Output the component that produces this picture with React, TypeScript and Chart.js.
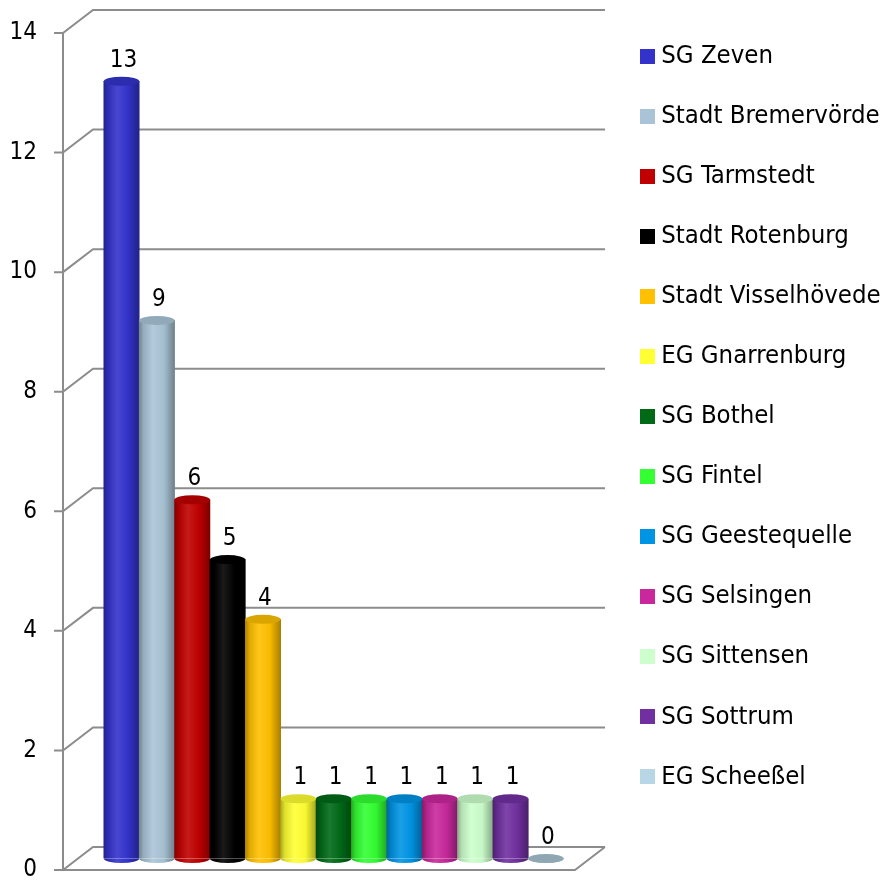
import React, { useEffect, useRef } from 'react';
import { Chart, registerables } from 'chart.js';

Chart.register(...registerables);

const LABELS = [
  'SG Zeven',
  'Stadt Bremervörde',
  'SG Tarmstedt',
  'Stadt Rotenburg',
  'Stadt Visselhövede',
  'EG Gnarrenburg',
  'SG Bothel',
  'SG Fintel',
  'SG Geestequelle',
  'SG Selsingen',
  'SG Sittensen',
  'SG Sottrum',
  'EG Scheeßel',
];
const VALUES = [13, 9, 6, 5, 4, 1, 1, 1, 1, 1, 1, 1, 0];
const COLORS = [
  '#3333CC',
  '#A9C4D6',
  '#C00000',
  '#000000',
  '#FFC000',
  '#FFFF33',
  '#006A17',
  '#33FF33',
  '#0094E4',
  '#C8289C',
  '#CCFFCC',
  '#7030A0',
  '#B7D6E6',
];
const Y_MIN = 0;
const Y_MAX = 14;
const Y_STEP = 2;

const FONT_FAMILY = "'DejaVu Sans Condensed', 'DejaVu Sans', sans-serif";
const GRID_COLOR = '#8c8c8c';
const DEPTH_X = 30;
const DEPTH_Y = -23;
const X_MIN = -1.23;
const X_MAX = 14.97;
const WALL_END = 13.245;

function hexToRgb(h: string) {
  const s = h.replace('#', '');
  return [parseInt(s.slice(0, 2), 16), parseInt(s.slice(2, 4), 16), parseInt(s.slice(4, 6), 16)];
}
function shade(h: string, f: number) {
  const [r, g, b] = hexToRgb(h);
  return `rgb(${Math.round(r * f)},${Math.round(g * f)},${Math.round(b * f)})`;
}
function tint(h: string, a: number) {
  const [r, g, b] = hexToRgb(h);
  return `rgb(${Math.round(r + (255 - r) * a)},${Math.round(g + (255 - g) * a)},${Math.round(b + (255 - b) * a)})`;
}
function bodyGradient(ctx: CanvasRenderingContext2D, left: number, width: number, color: string) {
  const g = ctx.createLinearGradient(left, 0, left + width, 0);
  g.addColorStop(0, shade(color, 0.68));
  g.addColorStop(0.12, shade(color, 0.88));
  g.addColorStop(0.38, tint(color, 0.1));
  g.addColorStop(0.7, shade(color, 0.97));
  g.addColorStop(1, shade(color, 0.66));
  return g;
}

const wallsPlugin = {
  id: 'walls3d',
  beforeDatasetsDraw(chart: any) {
    const { ctx, chartArea, scales } = chart;
    const x = scales.x;
    const y = scales.y;
    const L = chartArea.left;
    const R = x.getPixelForValue(WALL_END);
    const y0 = y.getPixelForValue(Y_MIN);
    ctx.save();
    ctx.strokeStyle = GRID_COLOR;
    ctx.lineWidth = 2;
    ctx.lineJoin = 'miter';
    y.ticks.forEach((t: any) => {
      const py = y.getPixelForValue(t.value);
      ctx.beginPath();
      ctx.moveTo(L - 9, py);
      ctx.lineTo(L, py);
      ctx.lineTo(L + DEPTH_X, py + DEPTH_Y);
      ctx.lineTo(R + DEPTH_X, py + DEPTH_Y);
      ctx.stroke();
    });
    ctx.beginPath();
    ctx.moveTo(L, y.getPixelForValue(Y_MAX));
    ctx.lineTo(L, y0);
    ctx.lineTo(R, y0);
    ctx.lineTo(R + DEPTH_X, y0 + DEPTH_Y);
    ctx.stroke();
    ctx.restore();
    ctx.save();
    ctx.translate(DEPTH_X / 2, DEPTH_Y / 2);
  },
  afterDatasetsDraw(chart: any) {
    const { ctx } = chart;
    const meta = chart.getDatasetMeta(0);
    const ds = chart.data.datasets[0].data as any[];
    meta.data.forEach((el: any, i: number) => {
      const { x, y, base, width } = el.getProps(['x', 'y', 'base', 'width'], true);
      const rx = width / 2;
      const ry = 4.5;
      const color = COLORS[i];
      ctx.beginPath();
      ctx.ellipse(x, base, rx, ry, 0, 0, Math.PI, false);
      ctx.closePath();
      ctx.fillStyle = bodyGradient(ctx, x - rx, width, color);
      ctx.fill();
      ctx.beginPath();
      ctx.ellipse(x, y, rx, ry, 0, 0, Math.PI * 2);
      ctx.fillStyle = Math.abs(base - y) < 1 ? shade(color, 0.78) : shade(color, 0.86);
      ctx.fill();
    });
    ctx.fillStyle = '#000';
    ctx.font = `24px ${FONT_FAMILY}`;
    ctx.textAlign = 'center';
    ctx.textBaseline = 'middle';
    meta.data.forEach((el: any, i: number) => {
      const { x, y } = el.getProps(['x', 'y'], true);
      ctx.fillText(String(ds[i].y), x + 2, y - 21);
    });
    ctx.restore();
  },
};

export default function App() {
  const ref = useRef<HTMLCanvasElement | null>(null);
  useEffect(() => {
    if (!ref.current) return;
    const swatches = COLORS.map((c) => {
      const cv = document.createElement('canvas');
      cv.width = 15;
      cv.height = 15;
      const g = cv.getContext('2d')!;
      g.fillStyle = c;
      g.fillRect(0, 0, 15, 15);
      return cv;
    });
    const chart = new Chart(ref.current, {
      type: 'bar',
      data: {
        datasets: [
          {
            label: 'Anzahl',
            data: VALUES.map((v, i) => ({ x: i, y: v })),
            backgroundColor: (c: any) => {
              const ch = c.chart;
              const i = c.dataIndex ?? 0;
              if (!ch.chartArea || !ch.scales.x) return COLORS[i];
              const xs = ch.scales.x;
              const cx = xs.getPixelForValue(i);
              const w = Math.abs(xs.getPixelForValue(1) - xs.getPixelForValue(0));
              return bodyGradient(ch.ctx, cx - w / 2, w, COLORS[i]);
            },
            borderWidth: 0,
            barPercentage: 1,
            categoryPercentage: 1,
          },
        ],
      },
      options: {
        responsive: false,
        animation: false,
        events: [],
        layout: { padding: { top: 33, bottom: 13, left: 0, right: 0 } },
        scales: {
          x: { type: 'linear', display: false, min: X_MIN, max: X_MAX, offset: false },
          y: {
            min: Y_MIN,
            max: Y_MAX,
            ticks: {
              stepSize: Y_STEP,
              padding: 26,
              color: '#000',
              font: { family: FONT_FAMILY, size: 24, lineHeight: 1 },
            },
            grid: { display: false, drawTicks: false },
            border: { display: false },
            afterFit: (s: any) => {
              s.width = 63;
              s.paddingTop = 0;
              s.paddingBottom = 0;
            },
          },
        },
        plugins: {
          legend: {
            position: 'right',
            align: 'start',
            maxWidth: 248,
            labels: {
              usePointStyle: true,
              boxWidth: 2,
              boxHeight: 15,
              padding: 10.5,
              color: '#000',
              font: { family: FONT_FAMILY, size: 25.5, lineHeight: '49.56px' },
              generateLabels: () =>
                LABELS.map((l, i) => ({
                  text: [l],
                  fillStyle: COLORS[i],
                  strokeStyle: COLORS[i],
                  lineWidth: 0,
                  pointStyle: swatches[i],
                  hidden: false,
                  index: i,
                  datasetIndex: 0,
                  fontColor: '#000',
                })),
            },
          },
          tooltip: { enabled: false },
        },
      } as any,
      plugins: [wallsPlugin],
    });
    return () => chart.destroy();
  }, []);
  return (
    <canvas
      ref={ref}
      width={884}
      height={883}
      style={{ position: 'fixed', left: 0, top: 0, display: 'block' }}
    />
  );
}
